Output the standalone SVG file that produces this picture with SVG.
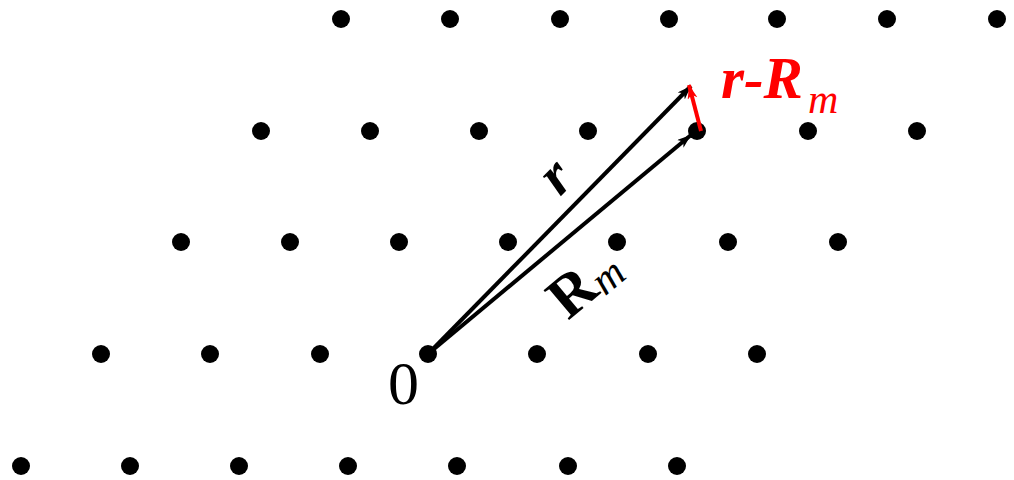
<svg xmlns="http://www.w3.org/2000/svg" width="1014" height="480" viewBox="0 0 1014 480">
<style>
.dot{fill:#000}
.vec{stroke:#000;stroke-width:4;fill:none}
.red{stroke:#f00;stroke-width:4;fill:none}
.t{font-family:"Liberation Serif","Times New Roman",serif}
</style>
<defs>
<marker id="ab" markerUnits="userSpaceOnUse" markerWidth="16" markerHeight="12" refX="14" refY="5" orient="auto" viewBox="0 0 16 12">
<path d="M0,0 L14,5 L0,10 L4,5 z" fill="#000"/>
</marker>
<marker id="ar" markerUnits="userSpaceOnUse" markerWidth="16" markerHeight="12" refX="14" refY="5" orient="auto" viewBox="0 0 16 12">
<path d="M0,0 L14,5 L0,10 L4,5 z" fill="#f00"/>
</marker>
</defs>
<rect width="1014" height="480" fill="#fff"/>
<g id="lattice">
<circle class="dot" cx="341" cy="19" r="9"/><circle class="dot" cx="450" cy="19" r="9"/><circle class="dot" cx="560" cy="19" r="9"/><circle class="dot" cx="669" cy="19" r="9"/><circle class="dot" cx="777" cy="19" r="9"/><circle class="dot" cx="887" cy="19" r="9"/><circle class="dot" cx="997" cy="19" r="9"/>
<circle class="dot" cx="261" cy="131" r="9"/><circle class="dot" cx="370" cy="131" r="9"/><circle class="dot" cx="479" cy="131" r="9"/><circle class="dot" cx="588" cy="131" r="9"/><circle class="dot" cx="697" cy="131" r="9"/><circle class="dot" cx="808" cy="131" r="9"/><circle class="dot" cx="917" cy="131" r="9"/>
<circle class="dot" cx="181" cy="242" r="9"/><circle class="dot" cx="290" cy="242" r="9"/><circle class="dot" cx="399" cy="242" r="9"/><circle class="dot" cx="508" cy="242" r="9"/><circle class="dot" cx="617" cy="242" r="9"/><circle class="dot" cx="728" cy="242" r="9"/><circle class="dot" cx="838" cy="242" r="9"/>
<circle class="dot" cx="101" cy="354" r="9"/><circle class="dot" cx="210" cy="354" r="9"/><circle class="dot" cx="320" cy="354" r="9"/><circle class="dot" cx="428" cy="354" r="9"/><circle class="dot" cx="537" cy="354" r="9"/><circle class="dot" cx="648" cy="354" r="9"/><circle class="dot" cx="757" cy="354" r="9"/>
<circle class="dot" cx="21" cy="466" r="9"/><circle class="dot" cx="130" cy="466" r="9"/><circle class="dot" cx="239" cy="466" r="9"/><circle class="dot" cx="348" cy="466" r="9"/><circle class="dot" cx="457" cy="466" r="9"/><circle class="dot" cx="568" cy="466" r="9"/><circle class="dot" cx="677" cy="466" r="9"/>
</g>
<g id="connectors">
<line class="vec" x1="428" y1="354" x2="691" y2="86" marker-end="url(#ab)"/>
<line class="vec" x1="428" y1="354" x2="691" y2="135" marker-end="url(#ab)"/>
<line class="red" x1="701" y1="131" x2="689" y2="85" marker-end="url(#ar)"/>
</g>
<g id="labels">
<text class="t" x="388" y="404" font-size="62">0</text>
<text class="t" transform="translate(560,197) rotate(-45)" font-size="58" font-weight="bold" font-style="italic">r</text>
<g transform="translate(568,321) rotate(-40)">
<text class="t" x="0" y="0" font-size="60" font-weight="bold">R</text>
<text class="t" x="44" y="5" font-size="42" font-style="italic">m</text>
</g>
<text class="t" x="721" y="98" font-size="59" font-weight="bold" font-style="italic" fill="#f00">r-R</text>
<text class="t" x="808" y="113" font-size="42" font-style="italic" fill="#f00">m</text>
</g>
</svg>
